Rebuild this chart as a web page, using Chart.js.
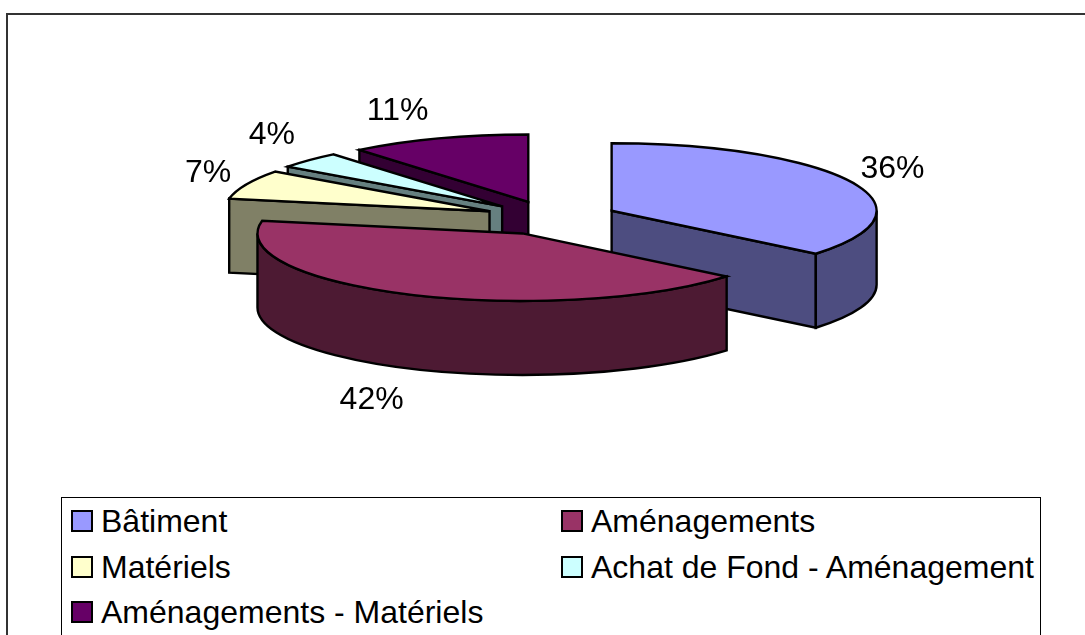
<!DOCTYPE html>
<html>
<head>
<meta charset="utf-8">
<title>Répartition</title>
<script src="https://cdn.jsdelivr.net/npm/chart.js@4"></script>
<style>
html, body { margin: 0; padding: 0; background: #fff; overflow: hidden; }
#wrap { position: relative; width: 1085px; height: 635px; font-family: "Liberation Sans", Arial, sans-serif; color: #000; }
#frame { position: absolute; left: 6px; top: 13px; width: 1085px; height: 640px; border: 2px solid #333; box-sizing: border-box; }
#chart { position: absolute; left: 0; top: 0; }
#legend { position: absolute; left: 61px; top: 497px; width: 980px; height: 150px; border: 1px solid #000; box-sizing: border-box; background: #fff; }
.item { position: absolute; font-size: 32px; line-height: 34px; white-space: nowrap; }
.swatch { position: absolute; left: 0; top: 6px; width: 18px; height: 18px; border: 2px solid #000; }
.item span { margin-left: 30px; }
</style>
</head>
<body>
<div id="wrap">
  <div id="frame"></div>
  <div id="legend"></div>
  <canvas id="chart" width="1085" height="635"></canvas>
</div>
<script>
var categories = ['Bâtiment', 'Aménagements', 'Matériels', 'Achat de Fond - Aménagement', 'Aménagements - Matériels'];
var percents = [36, 42, 7, 4, 11];
var topColours = ['#9999FF', '#993366', '#FFFFCC', '#CCFFFF', '#660066'];
var wallColours = ['#4D4D80', '#4D1A33', '#808066', '#668080', '#330033'];

// back slices first so the front ones cover them
var drawOrder = [4, 3, 2, 0, 1];
var pieCentreY = 218;
var tilt = 0.2547;
var depth = 74;
var explode = 67;
// small corrections for the % labels
var labelGapX = [9, 6, 15, 14, 10];
var labelGapY = [4, 17, 2, 16, 18];

function rimPath(ctx, p, a0, a1, yShift) {
    ctx.ellipse(p.x, p.y + yShift, p.r, p.r * tilt, 0, a0, a1);
}

function cutFace(ctx, p, a) {
    var x = p.x + p.r * Math.cos(a), y = p.y + p.r * tilt * Math.sin(a);
    ctx.beginPath();
    ctx.moveTo(p.x, p.y);
    ctx.lineTo(x, y);
    ctx.lineTo(x, y + depth);
    ctx.lineTo(p.x, p.y + depth);
    ctx.closePath();
    ctx.fill();
    ctx.stroke();
}

function sliceGeometry(arc) {
    var mid = (arc.startAngle + arc.endAngle) / 2;
    return {
        x: arc.x + explode * Math.cos(mid),
        y: pieCentreY + explode * tilt * Math.sin(mid),
        r: arc.outerRadius,
        mid: mid
    };
}

var pie3d = {
    id: 'pie3d',
    beforeDatasetsDraw: function(chart) {
        var ctx = chart.ctx;
        var arcs = chart.getDatasetMeta(0).data;
        ctx.save();
        ctx.lineWidth = 2.4;
        ctx.strokeStyle = '#000';
        ctx.lineJoin = 'miter';
        drawOrder.forEach(function(i) {
            var arc = arcs[i];
            var p = sliceGeometry(arc);
            var a0 = arc.startAngle, a1 = arc.endAngle;

            // a cut side only shows when it faces the viewer
            ctx.fillStyle = wallColours[i];
            if (Math.cos(a0) < 0) cutFace(ctx, p, a0);
            if (Math.cos(a1) > 0) cutFace(ctx, p, a1);

            // outer wall, only the part that faces the viewer
            var from = Math.max(a0, 0), to = Math.min(a1, Math.PI);
            if (to > from) {
                ctx.beginPath();
                rimPath(ctx, p, from, to, 0);
                ctx.lineTo(p.x + p.r * Math.cos(to), p.y + p.r * tilt * Math.sin(to) + depth);
                ctx.ellipse(p.x, p.y + depth, p.r, p.r * tilt, 0, to, from, true);
                ctx.closePath();
                ctx.fill();
                ctx.stroke();
            }

            ctx.fillStyle = topColours[i];
            ctx.beginPath();
            ctx.moveTo(p.x, p.y);
            rimPath(ctx, p, a0, a1, 0);
            ctx.closePath();
            ctx.fill();
            ctx.stroke();
        });

        // percentage labels, hung off the rim at the middle of each slice
        ctx.fillStyle = '#000';
        ctx.font = '32px "Liberation Sans", Arial, sans-serif';
        arcs.forEach(function(arc, i) {
            var p = sliceGeometry(arc);
            var cos = Math.cos(p.mid), sin = Math.sin(p.mid);
            var x = p.x + p.r * cos, y = p.y + p.r * tilt * sin;
            var front = sin > 0;
            if (front) y += depth;
            ctx.textAlign = cos >= 0 ? 'left' : 'right';
            ctx.textBaseline = 'alphabetic';
            var tx = x + (cos >= 0 ? labelGapX[i] : -labelGapX[i]);
            var ty = front ? y + labelGapY[i] + 23 : y - labelGapY[i];
            ctx.fillText(percents[i] + '%', tx, ty);
        });
        ctx.restore();
        return false;
    }
};

new Chart(document.getElementById('chart'), {
    type: 'pie',
    data: {
        labels: categories,
        datasets: [{ data: percents, backgroundColor: topColours, borderColor: '#000' }]
    },
    options: {
        responsive: false,
        animation: false,
        events: [],
        // leaves a 532px square centred on x=551, so the radius comes out at 266
        layout: { padding: { left: 285, right: 268, top: 0, bottom: 103 } },
        plugins: { legend: { display: false }, tooltip: { enabled: false } }
    },
    plugins: [pie3d]
});

var legendBox = document.getElementById('legend');
var colLeft = [9, 499];
var rowTop = [6, 52, 97];
categories.forEach(function(name, i) {
    var item = document.createElement('div');
    item.className = 'item';
    item.style.left = colLeft[i % 2] + 'px';
    item.style.top = rowTop[Math.floor(i / 2)] + 'px';
    var box = document.createElement('div');
    box.className = 'swatch';
    box.style.background = topColours[i];
    var text = document.createElement('span');
    text.textContent = name;
    item.appendChild(box);
    item.appendChild(text);
    legendBox.appendChild(item);
});
</script>
</body>
</html>
